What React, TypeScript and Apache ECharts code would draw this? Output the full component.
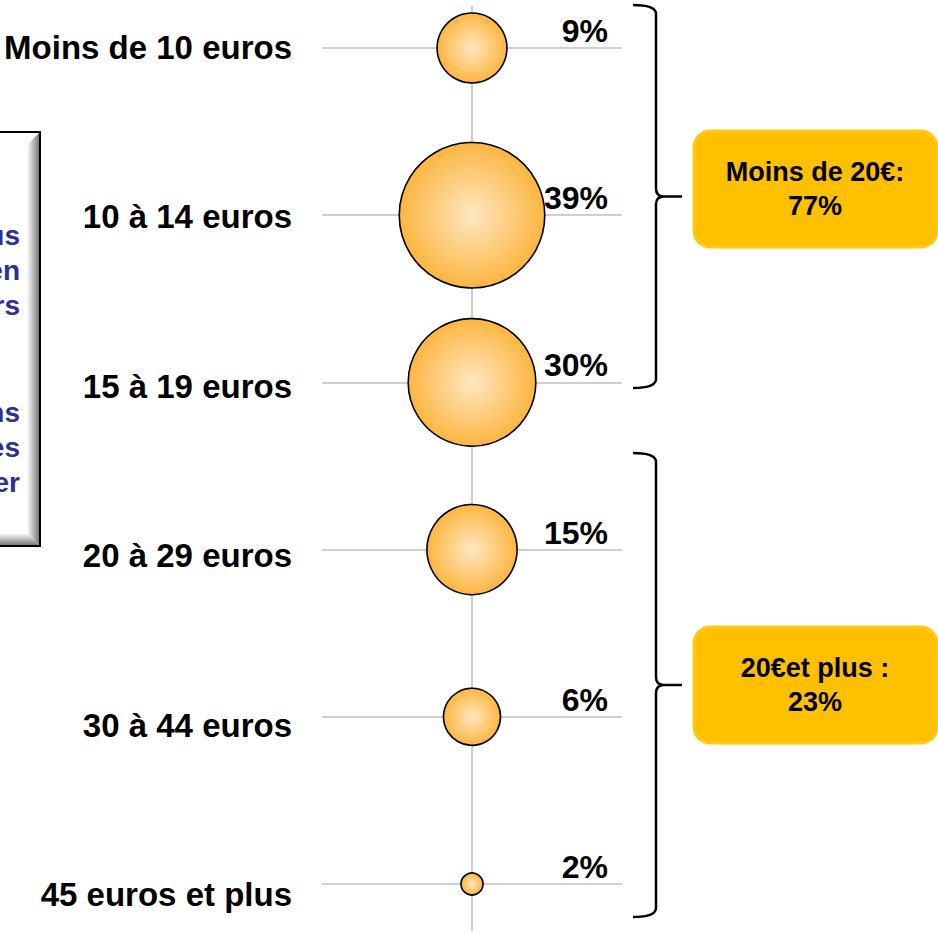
import React, { useEffect, useRef } from "react";
import * as echarts from "echarts";

const categories = [
  "Moins de 10 euros",
  "10 à 14 euros",
  "15 à 19 euros",
  "20 à 29 euros",
  "30 à 44 euros",
  "45 euros et plus",
];
const shares = [9, 39, 30, 15, 6, 2];
const groupLabels = ["Moins de 20€:\n77%", "20€et plus :\n23%"];
const sideTextTop = ["us", "en", "rs"];
const sideTextBottom = ["ns", "es", "er"];

const FONT = '"Liberation Sans", Arial, sans-serif';

function bracePath(h: number): string {
  const m = h / 2;
  return `M0,0 Q23,0 23,9 L23,${m - 8} Q23,${m} 31,${m} L49,${m} M31,${m} Q23,${m} 23,${m + 8} L23,${h - 9} Q23,${h} 0,${h}`;
}

let registered = false;
function registerShapes() {
  if (registered) return;
  registered = true;
  echarts.graphic.registerShape("braceA", echarts.graphic.extendPath(bracePath(383), {}));
  echarts.graphic.registerShape("braceB", echarts.graphic.extendPath(bracePath(464), {}));
}

function bubbleSize(v: number): number {
  return v >= 5 ? 23.3 * Math.sqrt(v) : 11 * v;
}

export default function App() {
  const ref = useRef<HTMLDivElement>(null);
  useEffect(() => {
    if (!ref.current) return;
    registerShapes();
    const chart = echarts.init(ref.current, undefined, { renderer: "svg" });

    const sideStyle = {
      fill: "#2E3192",
      fontSize: 28,
      fontWeight: "bold",
      fontFamily: FONT,
      align: "right",
      textAlign: "right",
      verticalAlign: "middle",
      textVerticalAlign: "middle",
    };
    const sideTexts: any[] = [];
    const topYs = [235, 270, 305];
    const botYs = [412, 447, 482];
    sideTextTop.forEach((t, i) =>
      sideTexts.push({ type: "text", x: 20, y: topYs[i], style: { ...sideStyle, text: t } })
    );
    sideTextBottom.forEach((t, i) =>
      sideTexts.push({ type: "text", x: 20, y: botYs[i], style: { ...sideStyle, text: t } })
    );

    const box = (y: number, text: string) => [
      {
        type: "rect",
        shape: { x: 694, y, width: 243, height: 116, r: 16 },
        style: { fill: "#FFC000", stroke: "#FFCB12", lineWidth: 3 },
        z: 10,
      },
      {
        type: "text",
        x: 815,
        y: y + 58,
        z: 11,
        style: {
          text,
          fill: "#000",
          fontSize: 27,
          fontWeight: "bold",
          fontFamily: FONT,
          lineHeight: 34,
          align: "center",
          textAlign: "center",
          verticalAlign: "middle",
          textVerticalAlign: "middle",
        },
      },
    ];

    const option: any = {
      animation: false,
      backgroundColor: "#fff",
      grid: { left: 322, right: 316, top: 6, bottom: 2, containLabel: false },
      xAxis: {
        type: "value",
        min: -1,
        max: 1,
        show: false,
      },
      yAxis: [
        {
          type: "value",
          inverse: true,
          min: -0.2512,
          max: 5.2811,
          axisLine: { show: false },
          axisTick: { show: false },
          axisLabel: { show: false },
          splitLine: { show: false },
        },
        {
          type: "value",
          inverse: true,
          min: -0.2448,
          max: 5.2124,
          position: "left",
          axisLine: { show: false },
          axisTick: { show: false },
          splitLine: { show: false },
          axisLabel: {
            show: true,
            customValues: categories.map((_, i) => i),
            formatter: (v: number) => categories[Math.round(v)] ?? "",
            margin: 30,
            fontSize: 33,
            fontWeight: "bold",
            fontFamily: FONT,
            color: "#000",
          },
        },
      ],
      series: [
        {
          type: "scatter",
          yAxisIndex: 0,
          z: 3,
          data: shares.map((v, i) => [0, i, v]),
          symbolSize: (val: number[]) => bubbleSize(val[2]),
          itemStyle: {
            color: {
              type: "radial",
              x: 0.5,
              y: 0.5,
              r: 0.5,
              colorStops: [
                { offset: 0, color: "#FFE7C2" },
                { offset: 1, color: "#FCB640" },
              ],
            },
            borderColor: "#000",
            borderWidth: 1.6,
            opacity: 1,
          },
          silent: true,
        },
        {
          type: "scatter",
          yAxisIndex: 0,
          z: 4,
          data: shares.map((v, i) => [0.9067, i, v]),
          symbolSize: 0.1,
          itemStyle: { color: "#000", opacity: 0 },
          silent: true,
          label: {
            show: true,
            position: "top",
            distance: 1,
            align: "right",
            verticalAlign: "bottom",
            formatter: (p: any) => p.value[2] + "%",
            fontSize: 32,
            fontWeight: "bold",
            fontFamily: FONT,
            color: "#000",
            opacity: 1,
            textBorderWidth: 0,
          },
          markLine: {
            z: 1,
            silent: true,
            symbol: ["none", "none"],
            label: { show: false },
            lineStyle: { color: "#BFBFBF", width: 1.5, type: "solid", opacity: 1 },
            data: [...categories.map((_, i) => ({ yAxis: i })), { xAxis: 0 }],
          },
        },
      ],
      graphic: [
        {
          type: "rect",
          shape: { x: -10, y: 132, width: 50, height: 414 },
          style: { fill: "#fff", stroke: "#000", lineWidth: 2 },
          z: 5,
        },
        {
          type: "polygon",
          shape: { points: [[27, 145], [39, 133], [39, 545], [27, 533]] },
          style: {
            fill: {
              type: "linear",
              x: 0,
              y: 0,
              x2: 1,
              y2: 0,
              colorStops: [
                { offset: 0, color: "#ffffff" },
                { offset: 1, color: "#7a7a7a" },
              ],
            },
          },
          z: 6,
        },
        {
          type: "polygon",
          shape: { points: [[-10, 533], [27, 533], [39, 545], [-10, 545]] },
          style: {
            fill: {
              type: "linear",
              x: 0,
              y: 0,
              x2: 0,
              y2: 1,
              colorStops: [
                { offset: 0, color: "#ffffff" },
                { offset: 1, color: "#7a7a7a" },
              ],
            },
          },
          z: 6,
        },
        ...sideTexts.map((t) => ({ ...t, z: 7 })),
        {
          type: "braceA",
          x: 633,
          y: 5,
          style: { stroke: "#000", lineWidth: 2.5, fill: "none" },
          z: 8,
        },
        {
          type: "braceB",
          x: 633,
          y: 453,
          style: { stroke: "#000", lineWidth: 2.5, fill: "none" },
          z: 8,
        },
        ...box(131, groupLabels[0]),
        ...box(627, groupLabels[1]),
      ],
    };
    chart.setOption(option);
    return () => chart.dispose();
  }, []);
  return (
    <div
      ref={ref}
      style={{ position: "absolute", left: 0, top: 0, width: 938, height: 933 }}
    />
  );
}
